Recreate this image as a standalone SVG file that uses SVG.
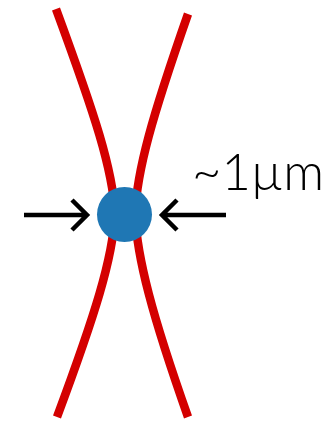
<svg xmlns="http://www.w3.org/2000/svg" width="332" height="422" viewBox="0 0 332 422">
<style>
.fiber{fill:none;stroke:#d40000;stroke-width:8.5;stroke-linecap:butt}
.arrow{fill:none;stroke:#000;stroke-width:4.5;stroke-linecap:butt;stroke-linejoin:miter}
.label{font-family:Lato,"Liberation Sans",sans-serif;font-weight:300;font-size:52px;fill:#000}
</style>
<rect width="332" height="422" fill="#fff"/>
<g id="fibers">
<path id="fiber-left" class="fiber" d="M56,9 C95,115 113,170 115,214 C113,258 95,315 57,417"/>
<path id="fiber-right" class="fiber" d="M188,14 C152,117 137,170 135,214 C137,258 152,315 188,417"/>
</g>
<g id="connectors">
<path class="arrow" d="M24,215 H87 M72,200 L87,215 L72,230"/>
<path class="arrow" d="M226,215 H162 M177,200 L162,215 L177,230"/>
</g>
<g id="focus">
<circle cx="124.5" cy="214.5" r="27.5" fill="#1f77b4"/>
</g>
<g id="label">
<text class="label" x="192" y="190" textLength="132" lengthAdjust="spacingAndGlyphs">~1µm</text>
</g>
</svg>
